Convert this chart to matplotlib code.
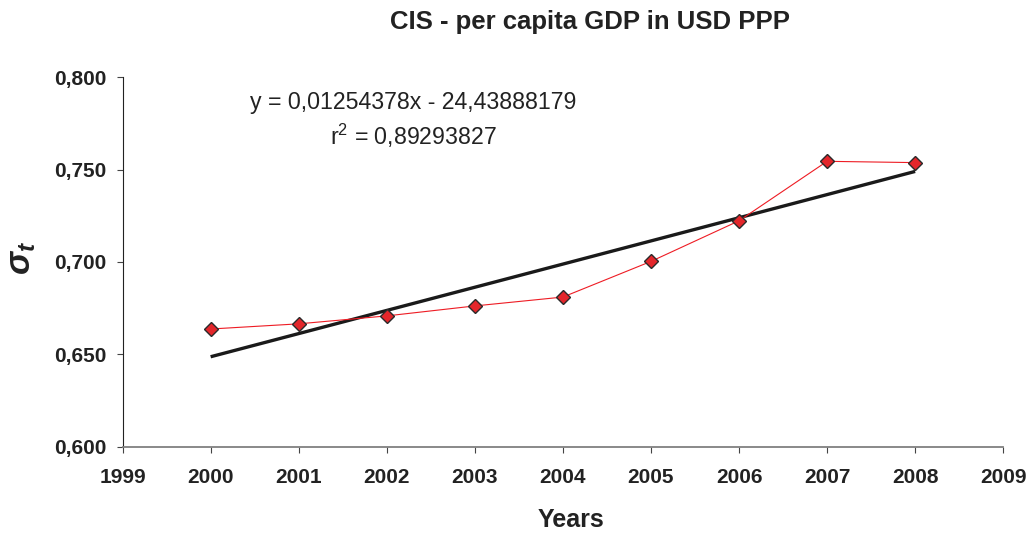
import matplotlib
matplotlib.use("Agg")
import matplotlib.pyplot as plt
from matplotlib.ticker import FuncFormatter
import numpy as np

# values
years = [2000, 2001, 2002, 2003, 2004, 2005, 2006, 2007, 2008]
sigma = [0.6637, 0.6665, 0.6708, 0.6762, 0.6810, 0.7003, 0.7223, 0.7545, 0.7538]

# linear trend as printed on the chart
slope = 0.01254378
intercept = -24.43888179
r2 = 0.89293827

x_ticks = list(range(1999, 2010))
y_ticks = [0.600, 0.650, 0.700, 0.750, 0.800]

plt.rcParams['font.family'] = ['Liberation Sans', 'DejaVu Sans']
plt.rcParams['mathtext.fontset'] = 'custom'
plt.rcParams['mathtext.rm'] = 'Liberation Sans'
plt.rcParams['mathtext.it'] = 'Liberation Sans:italic:bold'
plt.rcParams['mathtext.bf'] = 'Liberation Sans:bold'

W, H = 1030, 533
fig = plt.figure(figsize=(W / 100, H / 100), dpi=100)
ax = fig.add_axes([0.119, 0.162, 0.855, 0.693])

ax.plot(years, sigma, color='#ee1c24', linewidth=0.8, marker='D', markersize=7,
        markerfacecolor='#e3262b', markeredgecolor='#2a2a2a', markeredgewidth=1.0,
        zorder=3)

trend_x = np.array([years[0], years[-1]])
ax.plot(trend_x, slope * trend_x + intercept, color='#1a1a1a', linewidth=2.4,
        solid_capstyle='butt', zorder=2)

ax.set_xlim(1999, 2009)
ax.set_ylim(0.600, 0.800)
ax.set_xticks(x_ticks)
ax.set_yticks(y_ticks)
ax.yaxis.set_major_formatter(FuncFormatter(lambda v, p: f"{v:.3f}".replace('.', ',')))

for lab in ax.get_xticklabels() + ax.get_yticklabels():
    lab.set_fontweight('bold')
    lab.set_fontsize(15)
    lab.set_color('#222222')

ax.spines['top'].set_visible(False)
ax.spines['right'].set_visible(False)
ax.spines['left'].set_color('#222222')
ax.spines['bottom'].set_color('#808080')
ax.spines['bottom'].set_linewidth(1.3)
ax.tick_params(axis='both', direction='out', length=4.5, color='#444444', width=0.8)
ax.tick_params(axis='x', pad=11)
ax.tick_params(axis='y', pad=7)

# title and axis labels placed in figure pixels as in the reference
fig.text(590 / W, 1 - 22 / H, "CIS - per capita GDP in USD PPP", fontsize=18.5,
         fontweight='bold', color='#222222', ha='center', va='center')
fig.text(571 / W, 1 - 527 / H, "Years", fontsize=18, fontweight='bold',
         color='#222222', ha='center', va='baseline')
fig.text(22 / W, 1 - 258 / H, r"$\sigma_t$", fontsize=25, color='#222222',
         rotation=90, ha='center', va='center')

eq = f"y = {slope:.8f}x - {abs(intercept):.8f}".replace('.', ',')
ax.text(2000.45, 0.7865, eq, fontsize=16.7, color='#222222', va='center')
ax.text(2001.35, 0.7685, f"r$^2$ = {r2:.8f}".replace('.', ','), fontsize=16.7,
        color='#222222', va='center')

fig.savefig("out.png", dpi=100)
